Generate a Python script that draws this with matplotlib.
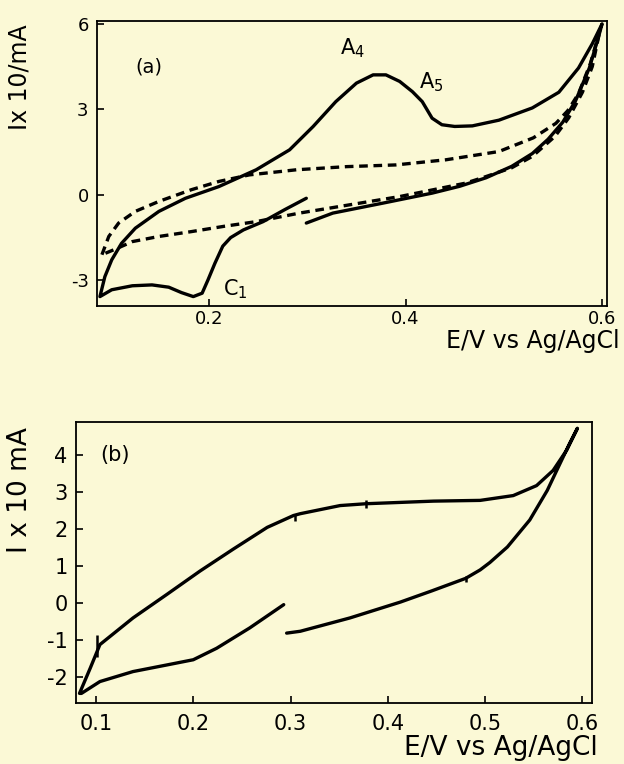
import matplotlib
matplotlib.use("Agg")
import matplotlib.pyplot as plt

plt.rcParams['font.family'] = ['DejaVu Sans']
plt.rcParams['axes.unicode_minus'] = False

BG = '#FBF9D6'

# ---------------- Panel (a) data ----------------
a_solid_x = [0.299, 0.277, 0.255, 0.235, 0.222, 0.214, 0.206, 0.199, 0.193, 0.184, 0.172,
             0.159, 0.142, 0.122, 0.101, 0.089,
             0.094, 0.101, 0.111, 0.125, 0.149, 0.176, 0.210, 0.248, 0.282,
             0.306, 0.329, 0.350, 0.367, 0.380, 0.394, 0.407, 0.417, 0.427, 0.437,
             0.450, 0.468, 0.495, 0.529, 0.556, 0.576, 0.590, 0.600,
             0.596, 0.587, 0.573, 0.560, 0.545, 0.529, 0.508, 0.482, 0.455, 0.427,
             0.377, 0.326, 0.299]
a_solid_y = [-0.12, -0.52, -0.94, -1.23, -1.50, -1.80, -2.40, -2.98, -3.45, -3.57, -3.43,
             -3.24, -3.16, -3.19, -3.33, -3.57,
             -2.87, -2.28, -1.70, -1.17, -0.58, -0.12, 0.29, 0.88, 1.58,
             2.40, 3.27, 3.92, 4.21, 4.21, 3.98, 3.62, 3.27, 2.69, 2.46,
             2.40, 2.42, 2.62, 3.05, 3.60, 4.45, 5.30, 6.00,
             5.50, 4.45, 3.30, 2.55, 1.95, 1.45, 1.00, 0.60, 0.30, 0.06,
             -0.29, -0.64, -0.99]

a_dash_x = [0.091, 0.098, 0.108, 0.125, 0.149, 0.182, 0.210, 0.241, 0.289, 0.340, 0.390,
            0.441, 0.495, 0.530, 0.553, 0.565, 0.576, 0.588, 0.598,
            0.590, 0.580, 0.566, 0.552, 0.529, 0.508, 0.480, 0.461, 0.394, 0.343, 0.292,
            0.248, 0.216, 0.182, 0.149, 0.122, 0.105, 0.091]
a_dash_y = [-2.10, -1.46, -0.99, -0.58, -0.23, 0.18, 0.47, 0.70, 0.88, 0.99, 1.05,
            1.23, 1.52, 2.00, 2.51, 2.95, 3.55, 4.60, 5.80,
            4.50, 3.60, 2.70, 2.05, 1.35, 0.95, 0.62, 0.41, -0.06, -0.35, -0.64,
            -0.94, -1.10, -1.29, -1.46, -1.64, -1.90, -2.10]

a_xticks = [0.2, 0.4, 0.6]
a_xticklabels = ['0.2', '0.4', '0.6']
a_yticks = [-3, 0, 3, 6]
a_yticklabels = ['-3', '0', '3', '6']

# ---------------- Panel (b) data ----------------
b_x = [0.293, 0.258, 0.224, 0.200, 0.173, 0.138, 0.104, 0.085, 0.083,
       0.094, 0.104, 0.121, 0.138, 0.173, 0.207, 0.241, 0.276, 0.303, 0.310,
       0.351, 0.378, 0.447, 0.495, 0.529, 0.553, 0.570, 0.584, 0.595,
       0.587, 0.577, 0.564, 0.546, 0.523, 0.505, 0.495, 0.480, 0.445, 0.413, 0.361,
       0.310, 0.296]
b_y = [-0.04, -0.67, -1.22, -1.53, -1.67, -1.85, -2.12, -2.44, -2.44,
       -1.76, -1.12, -0.76, -0.40, 0.24, 0.87, 1.46, 2.05, 2.37, 2.42,
       2.64, 2.69, 2.76, 2.78, 2.91, 3.18, 3.59, 4.14, 4.73,
       4.32, 3.77, 3.05, 2.25, 1.52, 1.10, 0.90, 0.67, 0.33, 0.03, -0.40,
       -0.76, -0.81]
b_spike_x = [0.1007, 0.305, 0.378, 0.480]
b_spike_lo = [-1.45, 2.22, 2.58, 0.58]
b_spike_hi = [-0.85, 2.42, 2.78, 0.74]

b_xticks = [0.1, 0.2, 0.3, 0.4, 0.5, 0.6]
b_xticklabels = ['0.1', '0.2', '0.3', '0.4', '0.5', '0.6']
b_yticks = [-2, -1, 0, 1, 2, 3, 4]
b_yticklabels = ['-2', '-1', '0', '1', '2', '3', '4']

W, H = 624, 764
fig = plt.figure(figsize=(W / 100, H / 100), dpi=100, facecolor=BG)

def px_axes(l, t, r, b):
    return fig.add_axes([l / W, 1 - b / H, (r - l) / W, (b - t) / H])

LW = 2.4
# ---------------- Panel (a) ----------------
ax = px_axes(97, 21, 607, 306)
ax.set_facecolor(BG)
ax.plot(a_solid_x, a_solid_y, color='black', lw=LW, solid_joinstyle='round', solid_capstyle='round')
ax.plot(a_dash_x, a_dash_y, color='black', lw=LW, linestyle=(0, (2.6, 1.7)), dash_capstyle='butt')
ax.set_xlim(0.086, 0.605)
ax.set_ylim(-3.9, 6.1)
ax.set_xticks(a_xticks)
ax.set_xticklabels(a_xticklabels)
ax.set_yticks(a_yticks)
ax.set_yticklabels(a_yticklabels)
ax.tick_params(direction='in', length=5, width=1.2, labelsize=13)
ax.tick_params(axis='x', pad=3)
ax.tick_params(axis='y', pad=6)
for s in ax.spines.values():
    s.set_linewidth(1.3)
ax.text(0.125, 4.5, '(a)', fontsize=14, ha='left', va='center')
ax.text(0.333, 5.15, r'A$_4$', fontsize=15, ha='left', va='center')
ax.text(0.414, 3.95, r'A$_5$', fontsize=15, ha='left', va='center')
ax.text(0.214, -3.3, r'C$_1$', fontsize=15, ha='left', va='center')
fig.text(620 / W, 1 - 341 / H, 'E/V vs Ag/AgCl', fontsize=17, ha='right', va='center')
fig.text(20 / W, 1 - 77 / H, 'Ix 10/mA', fontsize=17, rotation=90, ha='center', va='center')

# ---------------- Panel (b) ----------------
bx = px_axes(76, 422, 592, 703)
bx.set_facecolor(BG)
bx.plot(b_x, b_y, color='black', lw=LW, solid_joinstyle='round', solid_capstyle='round')
bx.vlines(b_spike_x, b_spike_lo, b_spike_hi, color='black', lw=1.8)
bx.set_xlim(0.0794, 0.610)
bx.set_ylim(-2.7, 4.9)
bx.set_xticks(b_xticks)
bx.set_xticklabels(b_xticklabels)
bx.set_yticks(b_yticks)
bx.set_yticklabels(b_yticklabels)
bx.tick_params(direction='in', length=5, width=1.2, labelsize=15)
bx.tick_params(axis='x', pad=8)
bx.tick_params(axis='y', pad=6)
for s in bx.spines.values():
    s.set_linewidth(1.3)
bx.text(0.104, 4.0, '(b)', fontsize=15, ha='left', va='center')
fig.text(598 / W, 1 - 748 / H, 'E/V vs Ag/AgCl', fontsize=19, ha='right', va='center')
fig.text(20 / W, 1 - 490 / H, 'I x 10 mA', fontsize=19, rotation=90, ha='center', va='center')

fig.savefig('out.png', dpi=100, facecolor=BG)
